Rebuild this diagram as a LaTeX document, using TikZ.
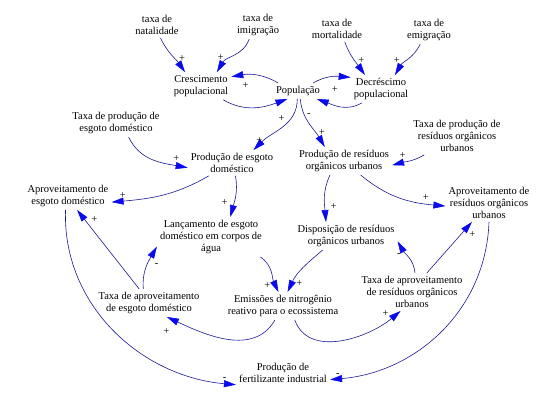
\documentclass[tikz,border=0pt]{standalone}
\usepackage{fontspec}
\setmainfont{Liberation Serif}
\usetikzlibrary{arrows.meta}
\definecolor{linkline}{RGB}{25,25,150}
\definecolor{linktip}{RGB}{10,10,235}

\begin{document}
\begin{tikzpicture}[x=1pt,y=1pt,
		varnode/.style={align=center, inner sep=3pt, font=\fontsize{10.5}{12}\selectfont},
		link/.style={draw=linkline, line width=0.6pt, -{Triangle[length=12pt,width=7pt,color=linktip]}},
		polsign/.style={inner sep=0.5pt, font=\fontsize{10.5}{10.5}\selectfont}
		]
		\useasboundingbox (0,0) rectangle (544,-403);

		\node[varnode](Nat) at (157,-25) {taxa de\\natalidade};
		\node[varnode](Imi) at (258,-25) {taxa de\\imigração};
		\node[varnode](Mort) at (337,-29) {taxa de\\mortalidade};
		\node[varnode](Emig) at (429,-30) {taxa de\\emigração};
		\node[varnode](Cres) at (201,-86) {Crescimento\\populacional};
		\node[varnode](Pop) at (298,-91) {População};
		\node[varnode](Dec) at (381,-89) {Decréscimo\\populacional};
		\node[varnode](TPE) at (116,-123) {Taxa de produção de\\esgoto doméstico};
		\node[varnode](TPR) at (457,-136) {Taxa de produção de\\resíduos orgânicos\\urbanos};
		\node[varnode](ProdE) at (232,-163) {Produção de esgoto\\doméstico};
		\node[varnode](ProdR) at (344,-161) {Produção de resíduos\\orgânicos urbanos};
		\node[varnode](AprE) at (68,-196) {Aproveitamento de\\esgoto doméstico};
		\node[varnode](AprR) at (489,-203) {Aproveitamento de\\resíduos orgânicos\\urbanos};
		\node[varnode](Lanc) at (211,-237) {Lançamento de esgoto\\doméstico em corpos de\\água};
		\node[varnode](Disp) at (346,-236) {Disposição de resíduos\\orgânicos urbanos};
		\node[varnode](TAE) at (149,-303) {Taxa de aproveitamento\\de esgoto doméstico};
		\node[varnode](Emi) at (283,-306) {Emissões de nitrogênio\\reativo para o ecossistema};
		\node[varnode](TAR) at (412,-292) {Taxa de aproveitamento\\de resíduos orgânicos\\urbanos};
		\node[varnode](Fert) at (283,-373) {Produção de\\fertilizante industrial};

		% populacao
		\draw[link] (Nat.-75) to[out=-65,in=125] node[polsign, pos=0.6, right=4pt]{+} (Cres.139);
		\draw[link] (Imi.-122) to[out=-110,in=60] node[polsign, pos=0.55, left=8pt]{+} (Cres.41);
		\draw[link] (Pop.158) to[out=150,in=10] node[polsign, pos=0.72, below=7pt]{+} (Cres.17);
		\draw[link] (Cres.-32) to[out=-30,in=-160] (Pop.-143);
		\draw[link] (Pop.28) to[out=30,in=175] node[polsign, pos=0.6, below=9pt]{+} (Dec.159);
		\draw[link] (Dec.-144) to[out=-150,in=-20] (Pop.-23);
		\draw[link] (Mort.-59) to[out=-70,in=125] node[polsign, pos=0.55, right=3pt]{+} (Dec.139);
		\draw[link] (Emig.-122) to[out=-115,in=60] node[polsign, pos=0.55, left=6pt]{+} (Dec.45);

		% esgoto e residuos
		\draw[link] (Pop.-95) to[out=-90,in=45] node[polsign, pos=0.3, left=6pt]{+}
			node[polsign, pos=0.8, left=2pt]{+} (ProdE.31);
		\draw[link] (Pop.-74) to[out=-85,in=120] node[polsign, pos=0.3, right=2pt]{-}
			node[polsign, pos=0.7, right=3pt]{+} (ProdR.144);
		\draw[link] (TPE.-48) to[out=-65,in=170] node[polsign, pos=0.85, above=3pt]{+} (ProdE.186);
		\draw[link] (ProdE.-151) to[out=-150,in=5] node[polsign, pos=0.9, above=2pt]{+} (AprE.-8);
		\draw[link] (ProdE.-75) to[out=-80,in=75] node[polsign, pos=0.65, left=6pt]{+} (Lanc.46);
		\draw[link] (TPR.-150) to[out=-150,in=15] node[polsign, pos=0.7, above=3pt]{+} (ProdR.-5);
		\draw[link] (ProdR.-40) to[out=-40,in=175] node[polsign, pos=0.8, above=3pt]{+} (AprR.184);
		\draw[link] (ProdR.-135) to[out=-115,in=95] node[polsign, pos=0.7, right=5pt]{+} (Disp.145);
		\draw[link] (Lanc.-22) to[out=-35,in=115] node[polsign, pos=0.85, left=5pt]{+} (Emi.108);
		\draw[link] (Disp.-149) to[out=-140,in=65] node[polsign, pos=0.85, right=4pt]{+} (Emi.72);

		% aproveitamento
		\draw[link] (Emi.-120) to[out=-120,in=-25] node[polsign, pos=0.97, below=9pt, xshift=-4pt]{+} (TAE.-38);
		\draw[link] (Emi.-50) to[out=-70,in=-140] node[polsign, pos=0.9, above left=1pt]{+} (TAR.-121);
		\draw[link] (TAE.112) to[out=95,in=-120] node[polsign, pos=0.55, right=7pt]{-} (Lanc.190);
		\draw[link] (TAE.125) -- node[polsign, pos=0.88, right=6pt]{+} (AprE.-57);
		\draw[link] (TAR.81) to[out=95,in=-60] node[polsign, pos=0.55, left=6pt]{-} (Disp.-6);
		\draw[link] (TAR.52) -- node[polsign, pos=0.75, right=8pt]{+} (AprR.-132);
		\draw[link] (AprE.-100) to[out=-92,in=175] node[polsign, pos=0.96, above=2pt]{-} (Fert.194);
		\draw[link] (AprR.-90) to[out=-92,in=5] node[polsign, pos=0.97, above=1pt]{-} (Fert.-8);
	\end{tikzpicture}
\end{document}
